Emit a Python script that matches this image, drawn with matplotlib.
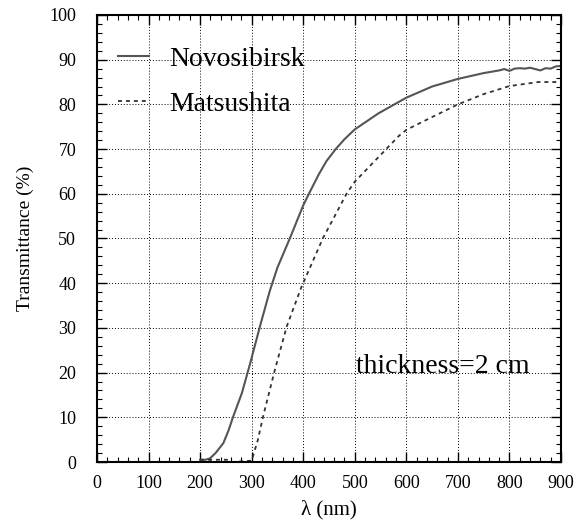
import matplotlib
matplotlib.use("Agg")
import matplotlib.pyplot as plt
from matplotlib.ticker import MultipleLocator

plt.rcParams["font.family"] = ["Liberation Serif", "DejaVu Serif"]

# --- Data ---
novo_lam = [200, 210, 219, 230, 245, 255, 264, 281, 297, 316, 335, 350, 374,
            400, 411, 430, 445, 463, 480, 500, 546, 600, 650, 700, 750, 780,
            790, 800, 810, 820, 830, 840, 850, 860, 870, 880, 890, 900]
novo_T = [0.5, 0.5, 0.8, 2.0, 4.2, 7.0, 10.1, 15.4, 22.0, 30.3, 38.2, 43.5,
          50.0, 57.4, 60.0, 64.3, 67.3, 70.0, 72.2, 74.4, 78.0, 81.5, 84.0,
          85.7, 87.0, 87.6, 87.9, 87.5, 88.0, 88.1, 88.0, 88.2, 87.9, 87.6,
          88.1, 88.0, 88.5, 88.6]

mats_lam = [200, 230, 255, 262, 300, 312, 322, 345, 368, 396, 438, 484, 500,
            561, 586, 600, 626, 700, 750, 800, 856, 900]
mats_T = [0.5, 0.5, 0.5, 0.0, 0.3, 4.9, 10.1, 20.6, 30.3, 39.0, 50.0, 60.0,
          62.7, 70.0, 73.0, 74.3, 75.8, 80.0, 82.3, 84.1, 85.0, 85.0]

fig = plt.figure(figsize=(5.87, 5.24), dpi=100)
ax = fig.add_axes([0.1652, 0.1183, 0.7905, 0.8531])

ax.plot(novo_lam, novo_T, color="#555555", linewidth=1.5, label="Novosibirsk")
ax.plot(mats_lam, mats_T, color="#333333", linewidth=1.3, linestyle=(0, (2.2, 2.2)),
        label="Matsushita")

ax.set_xlim(0, 900)
ax.set_ylim(0, 100)
ax.xaxis.set_major_locator(MultipleLocator(100))
ax.xaxis.set_minor_locator(MultipleLocator(20))
ax.yaxis.set_major_locator(MultipleLocator(10))
ax.yaxis.set_minor_locator(MultipleLocator(2))
ax.tick_params(which="both", direction="in", top=True, right=True, labelsize=13)
ax.tick_params(which="major", length=7, width=1)
ax.tick_params(which="minor", length=3.5, width=0.8)
ax.tick_params(axis="x", which="major", pad=9)
ax.tick_params(axis="y", which="major", pad=15)
for s in ax.spines.values():
    s.set_linewidth(1.5)

ax.grid(True, which="major", color="black", linestyle=(0, (1, 2)), linewidth=0.7)

ax.set_xlabel("λ (nm)", fontsize=15, labelpad=6)
ax.set_ylabel("Transmittance (%)", fontsize=14, labelpad=11)

ax.legend(loc="upper left", frameon=False, fontsize=20, handlelength=1.1,
          handletextpad=0.75, labelspacing=0.72, borderaxespad=0.0,
          bbox_to_anchor=(0.022, 0.955))

ax.text(502, 19.8, "thickness=2 cm", fontsize=20, va="baseline", ha="left")

fig.savefig("out.png", dpi=100)
